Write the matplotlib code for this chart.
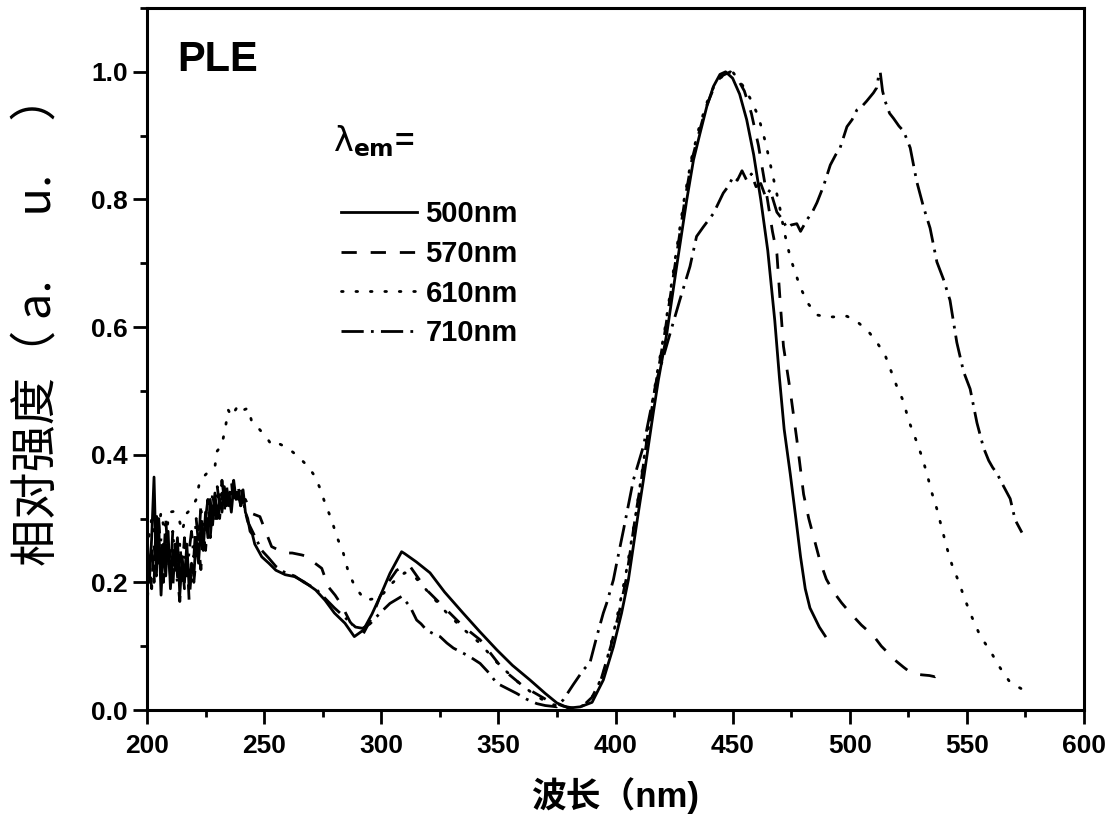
import matplotlib
matplotlib.use('Agg')
import matplotlib.pyplot as plt
from matplotlib.ticker import MultipleLocator, FormatStrFormatter

plt.rcParams['font.family'] = ['Liberation Sans', 'Noto Sans CJK SC', 'DejaVu Sans']
plt.rcParams['mathtext.fontset'] = 'dejavusans'

# ---- data ----
# noisy start of the spectra (1 nm grid)
noise_wl = list(range(200, 243))
noise_500 = [0.24, 0.20, 0.27, 0.365, 0.22, 0.29, 0.18, 0.26, 0.21, 0.28,
             0.19, 0.25, 0.22, 0.27, 0.18, 0.24, 0.20, 0.26, 0.19, 0.23,
             0.21, 0.27, 0.23, 0.29, 0.25, 0.31, 0.27, 0.33, 0.29, 0.34,
             0.30, 0.33, 0.31, 0.35, 0.32, 0.34, 0.31, 0.35, 0.33, 0.34,
             0.32, 0.345, 0.31]
noise_570 = [0.16, 0.23, 0.19, 0.26, 0.21, 0.30, 0.24, 0.20, 0.27, 0.22,
             0.25, 0.19, 0.26, 0.21, 0.17, 0.23, 0.19, 0.25, 0.17, 0.22,
             0.20, 0.24, 0.26, 0.22, 0.28, 0.25, 0.30, 0.27, 0.32, 0.29,
             0.33, 0.30, 0.34, 0.31, 0.35, 0.33, 0.36, 0.32, 0.34, 0.33,
             0.35, 0.33, 0.33]
noise_710 = [0.27, 0.22, 0.25, 0.20, 0.31, 0.23, 0.27, 0.22, 0.30, 0.24,
             0.21, 0.28, 0.23, 0.20, 0.26, 0.22, 0.27, 0.21, 0.25, 0.28,
             0.24, 0.30, 0.26, 0.32, 0.27, 0.30, 0.33, 0.29, 0.34, 0.31,
             0.35, 0.32, 0.36, 0.33, 0.35, 0.32, 0.34, 0.36, 0.33, 0.35,
             0.32, 0.33, 0.31]

# lambda_em = 500 nm
wl_500 = [243, 244, 245, 246, 249, 252, 255, 259, 263, 267,
          272, 276, 280, 284.5, 288.5, 292.3, 296, 299.5, 303.7, 308.7,
          310, 315, 320.8, 327, 334.9, 342, 349.4, 356, 363.5, 370,
          375, 380, 385, 390, 394.8, 399.1, 402.6, 405.5, 407.6, 409.7,
          411.9, 414, 416.1, 418.3, 421.9, 426.1, 430.4, 433.3, 436.1, 439,
          441.8, 444.6, 447, 450, 453, 456, 459, 462, 465, 468,
          470, 472, 474.6, 477, 479, 481, 483, 485, 487, 489.5]
int_500 = [0.30, 0.28, 0.275, 0.26, 0.24, 0.23, 0.219, 0.212, 0.209, 0.201,
           0.188, 0.172, 0.152, 0.136, 0.115, 0.125, 0.15, 0.178, 0.214, 0.248,
           0.245, 0.232, 0.215, 0.185, 0.152, 0.123, 0.094, 0.07, 0.047, 0.026,
           0.011, 0.003, 0.005, 0.012, 0.047, 0.099, 0.152, 0.204, 0.256, 0.308,
           0.36, 0.413, 0.465, 0.517, 0.59, 0.695, 0.799, 0.862, 0.904, 0.946,
           0.977, 0.996, 1.0, 0.99, 0.965, 0.925, 0.87, 0.80, 0.72, 0.61,
           0.52, 0.44, 0.37, 0.30, 0.24, 0.19, 0.16, 0.145, 0.13, 0.116]

# lambda_em = 570 nm
wl_570 = [244.7, 248.2, 250.4, 253.2, 256, 259, 262, 266, 269, 271.7,
          274.6, 277.4, 280.3, 283, 286.7, 290, 292.4, 296, 299.5, 303,
          306.6, 310, 312.3, 319.4, 327.9, 335, 342.2, 352.1, 360.7, 370.6,
          377.7, 382, 386, 390, 394, 398, 401.5, 404.5, 406.6, 408.7,
          411, 413, 415.2, 417.5, 421, 425.3, 429.6, 432.6, 435.6, 438.8,
          442, 445, 449, 452, 455, 458, 461, 464, 467, 468.9,
          470.3, 471.7, 474.6, 477.4, 480.3, 482.5, 484.5, 487.4, 490, 493.1,
          496.5, 500.2, 505, 510.2, 513.5, 517.3, 520, 523, 525.5, 528.6,
          531, 534, 536.5, 538.5, 540]
int_570 = [0.308, 0.303, 0.282, 0.256, 0.251, 0.246, 0.246, 0.243, 0.24, 0.23,
           0.222, 0.193, 0.18, 0.165, 0.138, 0.124, 0.12, 0.145, 0.178, 0.2,
           0.219, 0.226, 0.225, 0.188, 0.157, 0.131, 0.11, 0.063, 0.037, 0.016,
           0.006, 0.003, 0.006, 0.02, 0.05, 0.1, 0.152, 0.204, 0.256, 0.308,
           0.36, 0.413, 0.465, 0.517, 0.59, 0.695, 0.799, 0.862, 0.904, 0.946,
           0.975, 0.993, 1.0, 0.99, 0.97, 0.935, 0.885, 0.82, 0.75, 0.715,
           0.64, 0.57, 0.50, 0.424, 0.338, 0.30, 0.272, 0.232, 0.205, 0.185,
           0.168, 0.152, 0.133, 0.116, 0.10, 0.086, 0.076, 0.067, 0.06, 0.056,
           0.055, 0.054, 0.052, 0.057, 0.063]

# lambda_em = 610 nm
wl_610 = [200, 202, 204, 206, 208, 209.5, 211.2, 213.4, 215, 216.9,
          219.1, 221, 222.6, 224.8, 226.9, 229, 229.8, 231.9, 233.3, 234.7,
          236.1, 239, 241.1, 243.2, 244.7, 248.2, 251.8, 253.2, 256, 260.3,
          264.6, 268.9, 271.7, 273.9, 276, 278.8, 281, 283.8, 285.9, 288.8,
          293.1, 298, 301, 305, 310, 314, 320, 328, 335, 342,
          350, 358, 366, 372, 378, 383, 387, 391, 395, 398.5,
          401.5, 404.5, 406.8, 409, 411, 413, 415.2, 417.4, 421, 425.2,
          429.3, 432.5, 435.5, 438.8, 442, 446, 450, 452, 455, 458,
          461, 464, 467, 470, 472, 474.6, 478.9, 482.4, 486, 490.2,
          494.5, 498.8, 503, 508, 511.6, 515.1, 520.1, 523, 525.1, 527.9,
          530.8, 532.9, 535, 537.2, 539.3, 541.4, 543.6, 546.4, 549.3, 552.1,
          555.7, 559.9, 564.2, 568.5, 574.9]
int_610 = [0.25, 0.30, 0.26, 0.31, 0.27, 0.31, 0.311, 0.303, 0.28, 0.308,
           0.316, 0.33, 0.36, 0.368, 0.376, 0.381, 0.405, 0.415, 0.439, 0.47,
           0.46, 0.478, 0.47, 0.473, 0.452, 0.439, 0.423, 0.415, 0.418, 0.41,
           0.397, 0.381, 0.366, 0.347, 0.324, 0.298, 0.272, 0.246, 0.217, 0.193,
           0.172, 0.175, 0.183, 0.2, 0.215, 0.21, 0.185, 0.152, 0.127, 0.105,
           0.072, 0.045, 0.022, 0.01, 0.004, 0.003, 0.008, 0.025, 0.06, 0.11,
           0.16, 0.215, 0.265, 0.315, 0.365, 0.415, 0.47, 0.52, 0.595, 0.70,
           0.80, 0.865, 0.91, 0.95, 0.977, 0.995, 1.0, 0.99, 0.975, 0.955,
           0.93, 0.89, 0.84, 0.79, 0.75, 0.709, 0.662, 0.636, 0.619, 0.616,
           0.616, 0.617, 0.609, 0.593, 0.576, 0.556, 0.507, 0.483, 0.454, 0.427,
           0.397, 0.371, 0.341, 0.315, 0.285, 0.255, 0.228, 0.202, 0.172, 0.146,
           0.116, 0.093, 0.066, 0.043, 0.030]

# lambda_em = 710 nm
wl_710 = [243, 245, 247, 249, 252, 255, 259, 263, 267, 272,
          276, 280, 284.5, 289, 292, 295.2, 299.5, 303.7, 306, 308.7,
          310.5, 312.3, 315.1, 317, 319.4, 322, 325.1, 328, 330.8, 335,
          338, 342.2, 346, 349.3, 353, 357.8, 362, 366.4, 370, 374.9,
          377.7, 382, 386.3, 389.1, 392, 394.8, 396.2, 399.1, 400.5, 403.4,
          407.6, 411.9, 417.6, 423.3, 427.5, 431.8, 434.6, 437.5, 441.8, 446,
          448, 450.3, 452, 454, 456, 458, 460, 462, 464, 466,
          468.9, 471, 473.2, 475, 477.4, 479, 481.7, 484, 486, 488.8,
          491.7, 494, 495.9, 498.8, 501, 503, 505, 507.2, 510.1, 511.5,
          512.3, 513, 514, 515.1, 517, 518.7, 521, 523, 525.8, 528.6,
          531.5, 534.3, 537.2, 540, 542.8, 545.7, 548.6, 551.4, 554.3, 557.1,
          559.3, 561, 562.8, 565.6, 568.5, 570.6, 573.5]
int_710 = [0.295, 0.28, 0.265, 0.25, 0.238, 0.225, 0.215, 0.21, 0.2, 0.19,
           0.175, 0.16, 0.145, 0.13, 0.128, 0.135, 0.152, 0.167, 0.172, 0.178,
           0.17, 0.162, 0.141, 0.135, 0.125, 0.12, 0.115, 0.105, 0.097, 0.089,
           0.083, 0.073, 0.058, 0.042, 0.035, 0.026, 0.017, 0.01, 0.007, 0.005,
           0.016, 0.04, 0.063, 0.074, 0.115, 0.152, 0.167, 0.204, 0.23, 0.282,
           0.36, 0.413, 0.517, 0.59, 0.643, 0.695, 0.742, 0.757, 0.778, 0.81,
           0.82, 0.836, 0.83, 0.845, 0.83, 0.84, 0.82, 0.825, 0.805, 0.815,
           0.78, 0.77, 0.755, 0.76, 0.762, 0.75, 0.768, 0.78, 0.795, 0.821,
           0.854, 0.87, 0.881, 0.914, 0.925, 0.94, 0.945, 0.954, 0.967, 0.975,
           0.993, 1.0, 0.97, 0.954, 0.935, 0.927, 0.915, 0.907, 0.881, 0.828,
           0.788, 0.755, 0.702, 0.675, 0.642, 0.576, 0.53, 0.503, 0.45, 0.411,
           0.391, 0.38, 0.371, 0.351, 0.331, 0.298, 0.278]

labels = ['500nm', '570nm', '610nm', '710nm']

# ---- figure ----
fig = plt.figure(figsize=(11.15, 8.25), dpi=100)
ax = fig.add_axes([147 / 1115, 115 / 825, 937 / 1115, 702 / 825])

lw = 2.0
ax.plot(noise_wl + wl_500, noise_500 + int_500, color='black', lw=lw,
        linestyle='-', label=labels[0])
ax.plot(noise_wl + wl_570, noise_570 + int_570, color='black', lw=lw,
        linestyle=(0, (5.5, 5)), label=labels[1])
ax.plot(wl_610, int_610, color='black', lw=lw, linestyle=(0, (0.6, 4.6)),
        dash_capstyle='round', label=labels[2])
ax.plot(noise_wl + wl_710, noise_710 + int_710, color='black', lw=lw,
        linestyle=(0, (8, 2.6, 1, 2.6)), label=labels[3])

ax.set_xlim(200, 600)
ax.set_ylim(0, 1.1)
ax.xaxis.set_major_locator(MultipleLocator(50))
ax.xaxis.set_minor_locator(MultipleLocator(25))
ax.yaxis.set_major_locator(MultipleLocator(0.2))
ax.yaxis.set_minor_locator(MultipleLocator(0.1))
ax.yaxis.set_major_formatter(FormatStrFormatter('%.1f'))

for sp in ax.spines.values():
    sp.set_linewidth(2.2)
ax.tick_params(which='both', direction='out', top=False, right=False, width=2)
ax.tick_params(which='major', length=10)
ax.tick_params(which='minor', length=5)
ax.tick_params(axis='x', labelsize=19, pad=7)
ax.tick_params(axis='y', labelsize=19, pad=4)
for t in ax.get_xticklabels() + ax.get_yticklabels():
    t.set_fontweight('bold')

ax.set_xlabel('波长（nm)', fontsize=25, fontweight='bold')
ax.xaxis.set_label_coords(0.5, -0.095)
ax.set_ylabel('相对强度（ a.' + ' ' * 6 + 'u.' + ' ' * 5 + '）', fontsize=34,
              family=['Noto Sans CJK SC', 'DejaVu Sans'])
ax.yaxis.set_label_coords(-0.091, 0.556)

ax.text(0.032, 0.955, 'PLE', transform=ax.transAxes, fontsize=30,
        fontweight='bold', va='top', ha='left')
ax.text(0.198, 0.785, r'$\mathrm{\lambda}_{\mathbf{em}}$=', transform=ax.transAxes,
        fontsize=24, fontweight='bold', va='bottom', ha='left')

leg = ax.legend(loc='upper left', bbox_to_anchor=(0.207, 0.726), frameon=False,
                prop={'weight': 'bold', 'size': 21}, handlelength=2.6,
                handletextpad=0.3, labelspacing=0.40, borderpad=0,
                borderaxespad=0)

fig.savefig('out.png', dpi=100)
